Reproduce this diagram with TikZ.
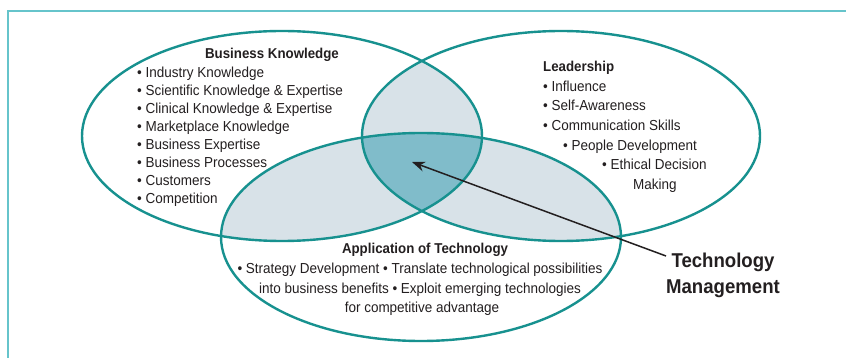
\documentclass[tikz,border=0pt]{standalone}
\usepackage{fontspec}
\setmainfont{Liberation Sans}[FakeStretch=0.93]
\usetikzlibrary{arrows.meta}
\definecolor{ring}{HTML}{17918F}
\definecolor{pairfill}{HTML}{D8E2E8}
\definecolor{corefill}{HTML}{80BCCA}
\definecolor{framecol}{HTML}{66C4CB}
\definecolor{ink}{HTML}{231F20}
\tikzset{
  frameline/.style={draw=framecol, line width=2pt},
  ringline/.style={draw=ring, line width=2.4pt},
  item/.style={inner sep=0pt, text=ink, font=\fontsize{14.5}{18}\selectfont},
  heading/.style={item, font=\fontsize{14.3}{18}\selectfont\bfseries},
  callout/.style={inner sep=0pt, text=ink, align=center, font=\fontsize{20}{25.5}\selectfont\bfseries},
  pointer/.style={draw=ink, line width=1.5pt, -{Stealth[length=13pt,width=10pt]}}
}
\def\ellBK{(282,136) ellipse [x radius=200, y radius=105]}
\def\ellLD{(561,136) ellipse [x radius=199, y radius=105]}
\def\ellAT{(421,237) ellipse [x radius=200, y radius=104]}
\begin{document}
\begin{tikzpicture}[x=1pt,y=-1pt]
\useasboundingbox (0,0) rectangle (846,358);
\fill[white] (0,0) rectangle (846,358);
% panel border
\draw[frameline] (8,358) -- (8,11) -- (846,11);

% pairwise overlaps
\begin{scope}\clip \ellBK; \fill[pairfill] \ellLD; \end{scope}
\begin{scope}\clip \ellBK; \fill[pairfill] \ellAT; \end{scope}
\begin{scope}\clip \ellLD; \fill[pairfill] \ellAT; \end{scope}
% common core
\begin{scope}\clip \ellBK; \clip \ellLD; \fill[corefill] \ellAT; \end{scope}
% outlines
\draw[ringline] \ellBK;
\draw[ringline] \ellLD;
\draw[ringline] \ellAT;

% Business Knowledge
\node[heading, anchor=base] (bkt) at (272,59) {Business Knowledge};
\foreach \t [count=\i] in {Industry Knowledge, Scientific Knowledge \& Expertise,
  Clinical Knowledge \& Expertise, Marketplace Knowledge, Business Expertise,
  Business Processes, Customers, Competition}
  \node[item, anchor=base west] (bk\i) at (137,{78+18*(\i-1)}) {• \t};

% Leadership
\node[heading, anchor=base west] (ldt) at (543,72) {Leadership};
\node[item, anchor=base west] (ld1) at (543,92) {• Influence};
\node[item, anchor=base west] (ld2) at (543,111) {• Self-Awareness};
\node[item, anchor=base west] (ld3) at (543,131) {• Communication Skills};
\node[item, anchor=base west] (ld4) at (563,151) {• People Development};
\node[item, anchor=base west] (ld5) at (602,170) {• Ethical Decision};
\node[item, anchor=base west] (ld6) at (633,190) {Making};

% Application of Technology
\node[heading, anchor=base] (att) at (425,254) {Application of Technology};
\node[item, anchor=base] (at1) at (420,273) {• Strategy Development • Translate technological possibilities};
\node[item, anchor=base] (at2) at (420,293) {into business benefits • Exploit emerging technologies};
\node[item, anchor=base] (at3) at (422,312) {for competitive advantage};

% Technology Management callout
\node[callout, anchor=north] (tm) at (723,253) {Technology\\Management};
\coordinate (core) at (412,162);
\coordinate (tail) at (666,256);
\draw[pointer] (tail) -- (core);
\end{tikzpicture}
\end{document}
